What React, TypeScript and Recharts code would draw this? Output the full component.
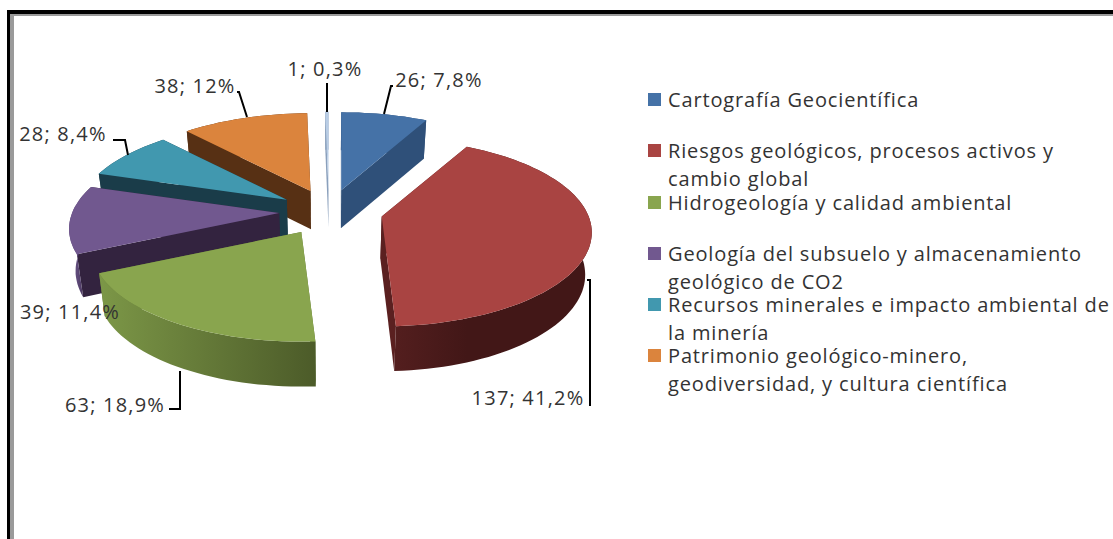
import { PieChart, Pie, Legend } from "recharts";

const legendLines = [
  ["Cartografía Geocientífica"],
  ["Riesgos geológicos, procesos activos y", "cambio global"],
  ["Hidrogeología y calidad ambiental"],
  ["Geología del subsuelo y almacenamiento", "geológico de CO2"],
  ["Recursos minerales e impacto ambiental de", "la minería"],
  ["Patrimonio geológico-minero,", "geodiversidad, y cultura científica"],
];
const values = [26, 137, 63, 39, 28, 38, 1];
const percents = ["7,8%", "41,2%", "18,9%", "11,4%", "8,4%", "12%", "0,3%"];

const topColors = ["#4572a7", "#a94442", "#89a54e", "#71588f", "#4198af", "#db843d", "#b9cde5"];
const sideColors = ["#2f5079", "#5a2020", "#5f7336", "#33233f", "#1a3c49", "#573014", "#8aa0bc"];
const wallLight = ["#2f5079", "#531e1e", "#7c9747", "#5f4a7a", "#1a3c49", "#573014", "#8aa0bc"];
const wallDark = ["#2f5079", "#421717", "#4c5b29", "#33233f", "#1a3c49", "#573014", "#8aa0bc"];
const explode = [1, 1.08, 1.08, 1, 1, 1, 1];

// hand placed in the original, so the labels are too: text centre, then leader line
const labelSpots = [
  { x: 439, y: 79, line: [[393, 86], [391, 86], [384, 114]] },
  { x: 528, y: 397, line: [[587, 280], [590, 280], [590, 406]] },
  { x: 115, y: 404, line: [[169, 409], [180, 409], [180, 371]] },
  { x: 70, y: 311, line: [] },
  { x: 63, y: 133, line: [[113, 140], [125, 140], [128, 155]] },
  { x: 195, y: 85, line: [[237, 92], [239, 92], [247, 117]] },
  { x: 325, y: 68, line: [[327, 83], [327, 112]] },
];

// white sliver is in the pie but has no legend entry in the original
const slices = values
  .map((value, i) => ({
    name: legendLines[i] ? legendLines[i].join(" ") : "Otros",
    value,
    idx: i,
    label: `${value}; ${percents[i]}`,
  }))
  .reverse();

const FONT = "'Open Sans', Lato, sans-serif";
const TILT = 0.44;
const PERSPECTIVE = 0.17;
const EXPLODE_X = 50;
const EXPLODE_Y = 22;

function Slice3D(props: any) {
  const { cx, cy, outerRadius, startAngle, endAngle, payload } = props;
  const i = payload.idx;
  const rad = Math.PI / 180;
  const mid = ((startAngle + endAngle) / 2) * rad;
  const ax = cx + EXPLODE_X * explode[i] * Math.cos(mid);
  const ay = cy - EXPLODE_Y * explode[i] * Math.sin(mid);

  const rim = (deg: number) => {
    const sinT = Math.cos(deg * rad);
    const cosT = Math.sin(deg * rad);
    const s = 1 / (1 + PERSPECTIVE * cosT);
    return {
      x: ax + outerRadius * sinT * s,
      y: ay - outerRadius * TILT * cosT * s,
      depth: 41.5 - 3.5 * cosT,
    };
  };
  const lower = (p: { x: number; y: number; depth: number }) => ({
    x: cx + (p.x - cx) * 0.975,
    y: p.y + p.depth,
  });
  const path = (pts: { x: number; y: number }[]) =>
    pts.map((p, n) => `${n ? "L" : "M"}${p.x.toFixed(1)},${p.y.toFixed(1)}`).join(" ") + " Z";

  const steps = Math.max(2, Math.ceil(Math.abs(endAngle - startAngle) / 2));
  const arc = Array.from({ length: steps + 1 }, (_, n) =>
    rim(startAngle + ((endAngle - startAngle) * n) / steps)
  );
  const apex = { x: ax, y: ay, depth: 41.5 - 3.5 * Math.sin(mid) };
  const apexLow = lower(apex);
  const first = arc[0];
  const last = arc[arc.length - 1];
  const gradId = `wall-${i}`;

  return (
    <g>
      <defs>
        <linearGradient
          id={gradId}
          gradientUnits="userSpaceOnUse"
          x1={Math.min(first.x, last.x)}
          x2={Math.max(first.x, last.x)}
          y1={0}
          y2={0}
        >
          <stop offset="0%" stopColor={wallLight[i]} />
          <stop offset="100%" stopColor={wallDark[i]} />
        </linearGradient>
      </defs>
      <path d={path([apex, first, lower(first), apexLow])} fill={sideColors[i]} />
      <path d={path([apex, last, lower(last), apexLow])} fill={sideColors[i]} />
      <path d={path([...arc, ...arc.map(lower).reverse()])} fill={`url(#${gradId})`} />
      <path d={path([apex, ...arc])} fill={topColors[i]} />
    </g>
  );
}

function SliceLabel(props: any) {
  const spot = labelSpots[props.payload ? props.payload.idx : 0];
  const text = props.payload.label;
  return (
    <g>
      {spot.line.length > 0 && (
        <polyline
          points={spot.line.map((p) => p.join(",")).join(" ")}
          fill="none"
          stroke="#000"
          strokeWidth={2}
        />
      )}
      <text
        x={spot.x}
        y={spot.y}
        textAnchor="middle"
        dominantBaseline="central"
        fontFamily={FONT}
        fontSize={20}
        letterSpacing={1.2}
        fill="#333"
      >
        {text}
      </text>
    </g>
  );
}

function LegendList() {
  return (
    <div style={{ fontFamily: FONT, fontSize: 20, letterSpacing: 0.85, color: "#333" }}>
      {legendLines.map((lines, i) => (
        <div key={lines[0]} style={{ position: "relative", height: 51.3 }}>
          <span
            style={{
              position: "absolute",
              left: 0,
              top: 7,
              width: 13,
              height: 13,
              background: topColors[i],
            }}
          />
          <div style={{ position: "absolute", left: 20, top: 0, lineHeight: "28px", whiteSpace: "nowrap" }}>
            {lines.map((line) => (
              <div key={line}>{line}</div>
            ))}
          </div>
        </div>
      ))}
    </div>
  );
}

export default function App() {
  return (
    <div style={{ position: "absolute", left: 0, top: 0, width: 1113, height: 539, overflow: "hidden", background: "#fff" }}>
      <div
        style={{
          position: "absolute",
          left: 7,
          top: 10,
          width: 1200,
          height: 600,
          borderLeft: "3px solid #000",
          borderTop: "4px solid #000",
        }}
      >
        <div style={{ width: "100%", height: "100%", borderLeft: "4px solid #9a9a9a", borderTop: "2px solid #9a9a9a" }} />
      </div>
      <div style={{ position: "absolute", left: 0, top: 0 }}>
        <PieChart width={1113} height={539} margin={{ top: 0, right: 0, bottom: 0, left: 0 }}>
          <Pie
            data={slices}
            dataKey="value"
            nameKey="name"
            cx={329}
            cy={211.5}
            innerRadius={0}
            outerRadius={207}
            startAngle={90}
            endAngle={450}
            paddingAngle={0}
            stroke="none"
            isAnimationActive={false}
            shape={Slice3D}
            labelLine={false}
            label={SliceLabel}
          />
          <Legend
            content={LegendList}
            wrapperStyle={{ position: "absolute", left: 648, top: 86, width: 465, bottom: "auto", right: "auto" }}
          />
        </PieChart>
      </div>
    </div>
  );
}
